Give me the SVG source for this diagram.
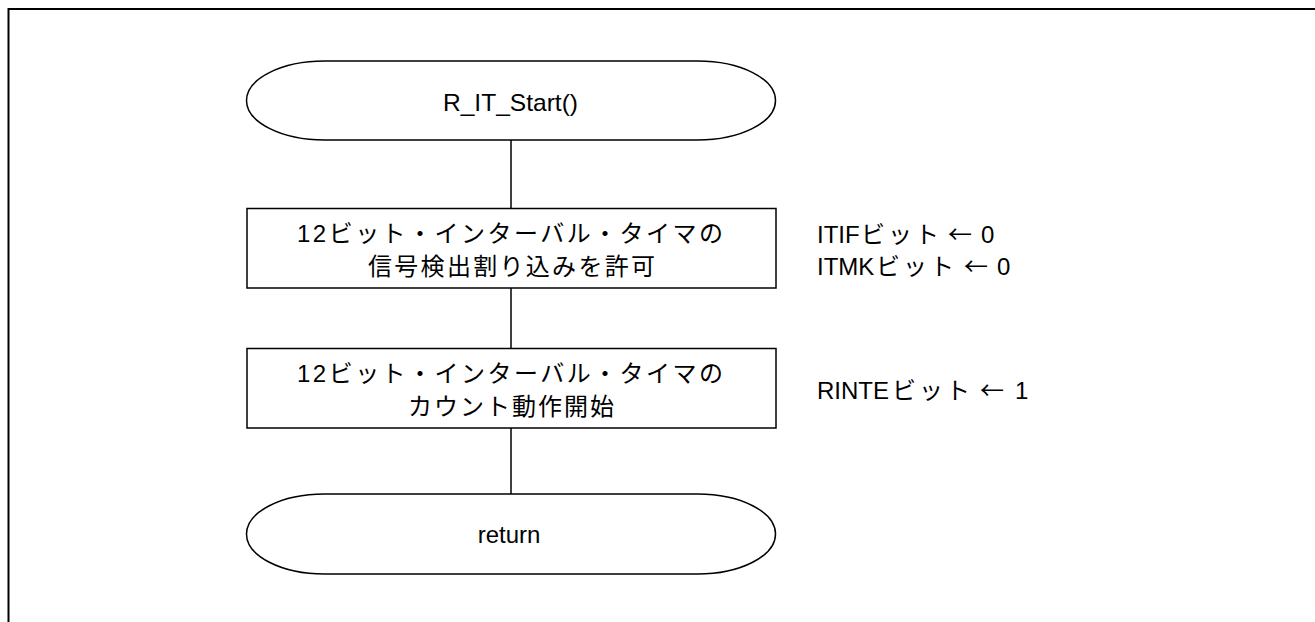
<svg xmlns="http://www.w3.org/2000/svg" width="1315" height="622" viewBox="0 0 1315 622">
<style>
.shape{fill:#fff;stroke:#000;stroke-width:1.5}
.ln{stroke:#000;stroke-width:1.5;fill:none}
text{font-family:"Liberation Sans","Noto Sans CJK JP",sans-serif;font-size:24px;fill:#000}
.c{text-anchor:middle}
.ar{font-family:"Noto Sans CJK JP",sans-serif}
.jp{letter-spacing:3px}
</style>
<rect width="1315" height="622" fill="#fff"/>
<path d="M8.5,622 V9 H1315" fill="none" stroke="#000" stroke-width="2"/>
<g id="connectors">
<line class="ln" x1="511" y1="140" x2="511" y2="208"/>
<line class="ln" x1="511" y1="288" x2="511" y2="348"/>
<line class="ln" x1="511" y1="428" x2="511" y2="494"/>
</g>
<g id="start">
<rect class="shape" x="246.5" y="61" width="529" height="79" rx="78" ry="39.5"/>
<text class="c" x="510.5" y="111" textLength="135" lengthAdjust="spacingAndGlyphs">R_IT_Start()</text>
</g>
<g id="enable">
<rect class="shape" x="247" y="208.5" width="529" height="79.5"/>
<text class="c" x="510" y="242" textLength="426" lengthAdjust="spacing">12ビット・インターバル・タイマの</text>
<text class="c" x="511.5" y="275" textLength="287" lengthAdjust="spacing">信号検出割り込みを許可</text>
</g>
<g id="enable-note">
<text x="817" y="243">ITIF<tspan x="861" class="jp">ビット</tspan><tspan x="948" class="ar">←</tspan><tspan x="981">0</tspan></text>
<text x="817" y="275">ITMK<tspan x="876" class="jp">ビット</tspan><tspan x="964" class="ar">←</tspan><tspan x="997">0</tspan></text>
</g>
<g id="count">
<rect class="shape" x="247" y="348.5" width="529" height="79.5"/>
<text class="c" x="510" y="382" textLength="426" lengthAdjust="spacing">12ビット・インターバル・タイマの</text>
<text class="c" x="511" y="415" textLength="206" lengthAdjust="spacing">カウント動作開始</text>
</g>
<g id="count-note">
<text x="817" y="399">RINTE<tspan x="892" class="jp">ビット</tspan><tspan x="980" class="ar">←</tspan><tspan x="1015">1</tspan></text>
</g>
<g id="return">
<rect class="shape" x="246.5" y="494" width="529" height="80" rx="78" ry="40"/>
<text class="c" x="509" y="543">return</text>
</g>
</svg>
